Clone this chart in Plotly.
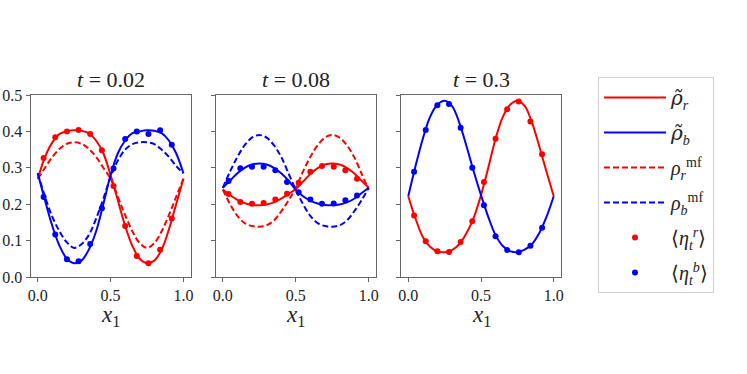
import plotly.graph_objects as go

# ---------------- data ----------------
x_line = [0.0, 0.05, 0.1, 0.15, 0.2, 0.25, 0.3, 0.35, 0.4, 0.45, 0.5,
          0.55, 0.6, 0.65, 0.7, 0.75, 0.8, 0.85, 0.9, 0.95, 1.0]
x_pts = [0.04, 0.12, 0.2, 0.28, 0.36, 0.44, 0.52, 0.6, 0.68, 0.76, 0.84, 0.92]

titles = ["<i>t</i> = 0.02", "<i>t</i> = 0.08", "<i>t</i> = 0.3"]
x_label = "<i>x</i><sub>1</sub>"

# t = 0.02
rho_r_1 = [0.27, 0.33, 0.37, 0.393, 0.40, 0.403, 0.402, 0.395, 0.375, 0.34, 0.28,
           0.21, 0.14, 0.085, 0.05, 0.038, 0.045, 0.075, 0.13, 0.20, 0.27]
rho_b_1 = [0.285, 0.21, 0.14, 0.085, 0.05, 0.038, 0.045, 0.075, 0.125, 0.20, 0.28,
           0.34, 0.375, 0.395, 0.40, 0.403, 0.402, 0.395, 0.375, 0.34, 0.285]
mf_r_1 = [0.27, 0.30, 0.33, 0.352, 0.366, 0.37, 0.366, 0.352, 0.33, 0.30, 0.27,
          0.22, 0.17, 0.125, 0.093, 0.08, 0.093, 0.125, 0.17, 0.22, 0.27]
mf_b_1 = [0.285, 0.22, 0.165, 0.125, 0.095, 0.08, 0.09, 0.115, 0.16, 0.215, 0.275,
          0.32, 0.35, 0.365, 0.37, 0.37, 0.365, 0.35, 0.33, 0.305, 0.285]
eta_r_1 = [0.327, 0.384, 0.40, 0.404, 0.393, 0.348, 0.25, 0.14, 0.058, 0.038, 0.075, 0.161]
eta_b_1 = [0.22, 0.117, 0.049, 0.043, 0.091, 0.189, 0.298, 0.379, 0.40, 0.393, 0.403, 0.363]

# t = 0.08
rho_r_2 = [0.24, 0.225, 0.212, 0.203, 0.198, 0.197, 0.199, 0.205, 0.215, 0.228, 0.242,
           0.262, 0.283, 0.299, 0.309, 0.312, 0.309, 0.30, 0.285, 0.265, 0.245]
rho_b_2 = [0.245, 0.265, 0.285, 0.30, 0.309, 0.312, 0.309, 0.30, 0.285, 0.265, 0.24,
           0.222, 0.21, 0.202, 0.198, 0.197, 0.199, 0.205, 0.215, 0.23, 0.245]
mf_r_2 = [0.24, 0.20, 0.168, 0.148, 0.14, 0.138, 0.142, 0.155, 0.18, 0.21, 0.245,
          0.29, 0.33, 0.362, 0.383, 0.39, 0.383, 0.362, 0.33, 0.285, 0.24]
mf_b_2 = [0.245, 0.29, 0.33, 0.362, 0.383, 0.39, 0.383, 0.362, 0.33, 0.285, 0.24,
          0.20, 0.168, 0.148, 0.14, 0.138, 0.142, 0.155, 0.18, 0.21, 0.245]
eta_r_2 = [0.228, 0.206, 0.201, 0.203, 0.213, 0.229, 0.259, 0.289, 0.305, 0.303, 0.293, 0.27]
eta_b_2 = [0.264, 0.299, 0.303, 0.303, 0.293, 0.261, 0.233, 0.213, 0.201, 0.202, 0.211, 0.224]

# t = 0.3
rho_r_3 = [0.222, 0.16, 0.11, 0.083, 0.07, 0.068, 0.074, 0.09, 0.12, 0.163, 0.225,
           0.30, 0.38, 0.44, 0.473, 0.484, 0.47, 0.425, 0.36, 0.29, 0.222]
rho_b_3 = [0.222, 0.305, 0.38, 0.44, 0.473, 0.484, 0.47, 0.425, 0.36, 0.29, 0.225,
           0.165, 0.115, 0.085, 0.071, 0.068, 0.075, 0.09, 0.12, 0.165, 0.222]
eta_r_3 = [0.169, 0.098, 0.071, 0.069, 0.096, 0.153, 0.261, 0.38, 0.461, 0.482, 0.427, 0.337]
eta_b_3 = [0.289, 0.404, 0.472, 0.475, 0.41, 0.30, 0.197, 0.112, 0.074, 0.068, 0.086, 0.135]

eta_err = [0.004] * 12

y_ticks = [0.0, 0.1, 0.2, 0.3, 0.4, 0.5]
x_ticks = [0.0, 0.5, 1.0]

panels = [
    dict(rr=rho_r_1, rb=rho_b_1, mr=mf_r_1, mb=mf_b_1, er=eta_r_1, eb=eta_b_1),
    dict(rr=rho_r_2, rb=rho_b_2, mr=mf_r_2, mb=mf_b_2, er=eta_r_2, eb=eta_b_2),
    dict(rr=rho_r_3, rb=rho_b_3, mr=None, mb=None, er=eta_r_3, eb=eta_b_3),
]

RED = "#ff0000"
BLUE = "#0000ff"
FONT = "Liberation Serif"
W, H = 747, 374

# ---------------- layout geometry (pixels) ----------------
x_frames = [(30.5, 190.7), (215.5, 376), (401, 561)]
y_top, y_bot = 95, 277

fig = go.Figure()

TILDE_RHO = '<i><span style="font-family:DejaVu Serif">ρ̃</span></i>'
names = {
    "rr": TILDE_RHO + "<sub><i>r</i></sub>",
    "rb": TILDE_RHO + "<sub><i>b</i></sub>",
    "mr": "<i>ρ</i><sub><i>r</i></sub><sup>mf</sup>",
    "mb": "<i>ρ</i><sub><i>b</i></sub><sup>mf</sup>",
    "er": "⟨<i>η</i><sub><i>t</i></sub><sup><i>r</i></sup>⟩",
    "eb": "⟨<i>η</i><sub><i>t</i></sub><sup><i>b</i></sup>⟩",
}

for i, p in enumerate(panels):
    ax = "" if i == 0 else str(i + 1)
    xa, ya = "x" + ax, "y" + ax
    show = i == 0
    for key, col, dash in [("mr", RED, "6px,3px"), ("mb", BLUE, "6px,3px")]:
        if p[key] is not None:
            fig.add_trace(go.Scatter(x=x_line, y=p[key], mode="lines", xaxis=xa, yaxis=ya,
                                     line=dict(color=col, width=2, dash=dash, shape="spline"),
                                     name=names[key], legendgroup=key, showlegend=show,
                                     legendrank={"mr": 3, "mb": 4}[key]))
    for key, col in [("rr", RED), ("rb", BLUE)]:
        fig.add_trace(go.Scatter(x=x_line, y=p[key], mode="lines", xaxis=xa, yaxis=ya,
                                 line=dict(color=col, width=2, shape="spline"),
                                 name=names[key], legendgroup=key, showlegend=show,
                                 legendrank={"rr": 1, "rb": 2}[key]))
    for key, col in [("er", RED), ("eb", BLUE)]:
        fig.add_trace(go.Scatter(x=x_pts, y=p[key], mode="markers", xaxis=xa, yaxis=ya,
                                 marker=dict(color=col, size=6),
                                 error_y=dict(type="data", array=eta_err, color=col,
                                              thickness=1.2, width=2),
                                 name=names[key], legendgroup=key, showlegend=show,
                                 legendrank={"er": 5, "eb": 6}[key]))

    common = dict(showline=True, mirror=True, linecolor="#666", linewidth=1,
                  ticks="outside", ticklen=4, tickcolor="#666", showgrid=False,
                  zeroline=False, automargin=False,
                  tickfont=dict(family=FONT, size=16, color="#222"))
    fig.layout["xaxis" + ax] = dict(
        domain=[x_frames[i][0] / W, x_frames[i][1] / W], range=[-0.05, 1.05],
        tickvals=x_ticks, ticktext=["0.0", "0.5", "1.0"], anchor=ya, **common)
    fig.layout["yaxis" + ax] = dict(
        domain=[1 - y_bot / H, 1 - y_top / H], range=[0, 0.5], anchor=xa,
        tickvals=y_ticks, ticktext=["%.1f" % v for v in y_ticks],
        showticklabels=(i == 0), **common)
    xc = (x_frames[i][0] + x_frames[i][1]) / 2 / W
    fig.add_annotation(text=titles[i], xref="paper", yref="paper",
                       x=xc, y=1 - (y_top - 1) / H,
                       xanchor="center", yanchor="bottom", showarrow=False,
                       font=dict(family=FONT, size=22, color="#222"))
    fig.add_annotation(text=x_label, xref="paper", yref="paper",
                       x=xc, y=1 - 300 / H,
                       xanchor="center", yanchor="top", showarrow=False,
                       font=dict(family=FONT, size=23, color="#222"))

fig.update_layout(
    width=W, height=H, margin=dict(l=0, r=0, t=0, b=0, autoexpand=False),
    paper_bgcolor="white", plot_bgcolor="white",
    font=dict(family=FONT),
    legend=dict(x=598 / W, y=1 - 77 / H, xanchor="left", yanchor="top",
                bordercolor="#d0d0d0", borderwidth=1, bgcolor="white",
                font=dict(family=FONT, size=20, color="#222"),
                tracegroupgap=6, traceorder="grouped", itemwidth=62),
)

fig.write_html("out.html", config={"displayModeBar": False},
               post_script="document.body.style.margin='0px';")
